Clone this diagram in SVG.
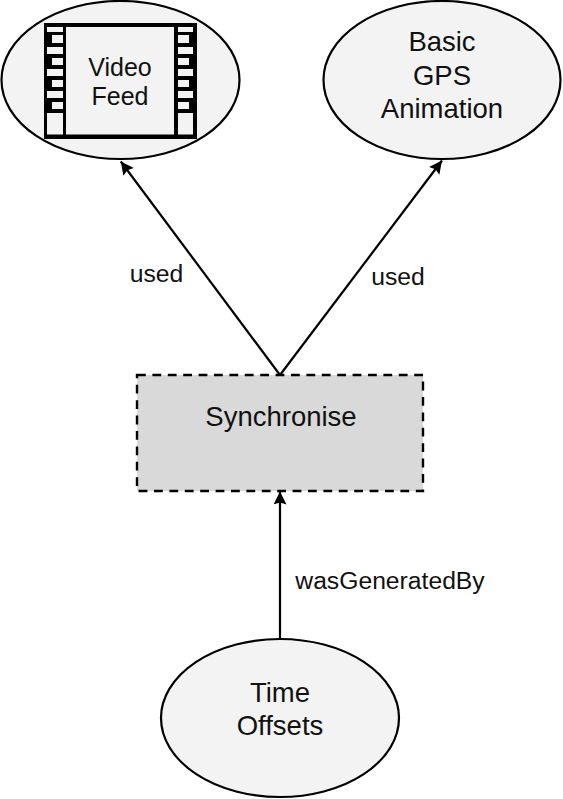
<svg xmlns="http://www.w3.org/2000/svg" width="563" height="799" viewBox="0 0 563 799">
<style>
text{font-family:"Liberation Sans",Arial,sans-serif;fill:#111;text-anchor:middle}
.n{font-size:27.500px}
.v{font-size:25px}
.l{font-size:24.700px}
.e{fill:#f3f3f3;stroke:#000;stroke-width:2.200}
.c{fill:none;stroke:#000;stroke-width:2.200}
</style>
<defs>
<marker id="a" markerUnits="userSpaceOnUse" markerWidth="15" markerHeight="14" refX="13" refY="6.500" orient="auto"><path d="M0 0L13 6.500L0 13L2 6.500z" fill="#000"/></marker>
</defs>
<rect width="563" height="799" fill="#fff"/>
<g id="connectors">
<path class="c" marker-end="url(#a)" d="M280 375L120.800 161.500"/>
<path class="c" marker-end="url(#a)" d="M280 375L442 160.500"/>
<path class="c" marker-end="url(#a)" d="M280 638L280 491.500"/>
</g>
<g id="video-feed">
<ellipse class="e" cx="120.500" cy="80" rx="119" ry="79"/>
<rect x="44" y="23" width="153" height="116" fill="#000"/>
<g fill="#f3f3f3">
<rect x="66" y="27" width="108" height="107.500"/>
<path d="M47 27h16v5H47zM52 35h11v8H52zM47 47h16v7H47zM52 58h11v7H52zM47 69h16v7H47zM52 80h11v7H52zM47 91h16v7H47zM52 102h11v7H52zM47 113h16v21.500H47z"/>
<path d="M178 27h15v5h-15zM178 35h11v8h-11zM178 47h15v7h-15zM178 58h11v7h-11zM178 69h15v7h-15zM178 80h11v7h-11zM178 91h15v7h-15zM178 102h11v7h-11zM178 113h15v21.500h-15z"/>
</g>
<text class="v" x="120" y="76">Video</text>
<text class="v" x="120" y="105">Feed</text>
</g>
<g id="gps-animation">
<ellipse class="e" cx="442" cy="80" rx="118.500" ry="79"/>
<text class="n" x="442" y="51">Basic</text>
<text class="n" x="442" y="85">GPS</text>
<text class="n" x="442" y="118">Animation</text>
</g>
<g id="synchronise">
<rect x="137" y="375" width="286" height="116" fill="#d9d9d9" stroke="#000" stroke-width="2.400" stroke-dasharray="8.800 6.600"/>
<text class="n" x="281" y="426">Synchronise</text>
</g>
<g id="time-offsets">
<ellipse class="e" cx="280" cy="718" rx="119" ry="79"/>
<text class="n" x="280" y="702">Time</text>
<text class="n" x="280" y="735">Offsets</text>
</g>
<g id="labels">
<text class="l" x="156.500" y="282">used</text>
<text class="l" x="398" y="285">used</text>
<text class="l" x="390" y="589">wasGeneratedBy</text>
</g>
</svg>
